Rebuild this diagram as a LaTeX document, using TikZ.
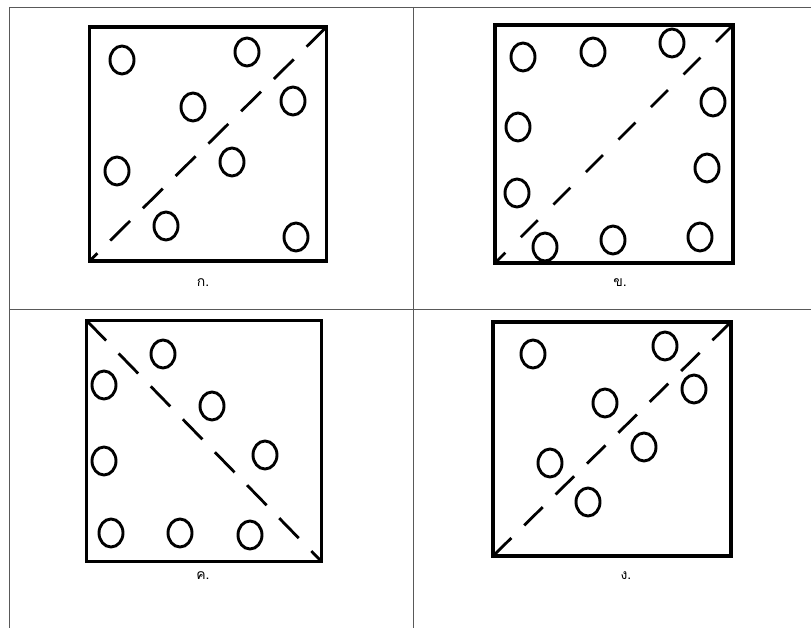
\documentclass[tikz,border=0pt]{standalone}
\usepackage{fontspec}
\newfontfamily\thaifont[Script=Thai]{Loma}
\usetikzlibrary{shapes.geometric}

\begin{document}
\begin{tikzpicture}[x=1pt, y=-1pt,
  rule/.style={draw=black!65, line width=0.8pt},
  box/.style={draw, line width=3.2pt, rectangle, inner sep=0pt, outer sep=0pt},
  blob/.style={draw, ellipse, line width=2.9pt, minimum width=24pt, minimum height=28pt, inner sep=0pt},
  cut/.style={line width=2.8pt, dash pattern=on 28pt off 18pt},
  tag/.style={font=\thaifont\fontsize{14}{16}\selectfont, inner sep=1pt}
]
\useasboundingbox (0,0) rectangle (811,628);

% table rules
\draw[rule] (9,7) -- (811,7);
\draw[rule] (9,309) -- (811,309);
\draw[rule] (9,7) -- (9,628);
\draw[rule] (413,7) -- (413,628);

% panel ก
\node[box, minimum width=237pt, minimum height=234pt] (sqA) at (208,144) {};
\draw[cut] (sqA.north east) -- (sqA.south west);
\foreach \p [count=\i] in {(122,60),(247,52),(193,107),(293,101),(117,171),(232,162),(166,226),(296,237)}
  \node[blob] (a\i) at \p {};
\node[tag] (tagA) at (203,283) {ก.};

% panel ข
\node[box, minimum width=238pt, minimum height=238pt] (sqB) at (614,144) {};
\draw[cut, dash pattern=on 24pt off 22pt] (sqB.north east) -- (sqB.south west);
\foreach \p [count=\i] in {(523,57),(593,52),(672,43),(713,102),(518,127),(707,168),(517,193),(545,247),(613,240),(700,237)}
  \node[blob] (b\i) at \p {};
\node[tag] (tagB) at (620,283) {ข.};

% panel ค
\node[box, minimum width=235pt, minimum height=241pt] (sqC) at (204,441) {};
\draw[cut] (sqC.north west) -- (sqC.south east);
\foreach \p [count=\i] in {(163,354),(104,385),(212,406),(265,455),(104,461),(111,533),(180,533),(250,535)}
  \node[blob] (c\i) at \p {};
\node[tag] (tagC) at (203,576) {ค.};

% panel ง
\node[box, minimum width=238pt, minimum height=234pt] (sqD) at (612,439) {};
\draw[cut, dash pattern=on 26pt off 18pt] (sqD.north east) -- (sqD.south west);
\foreach \p [count=\i] in {(533,354),(665,346),(694,389),(605,403),(644,447),(550,463),(588,502)}
  \node[blob] (d\i) at \p {};
\node[tag] (tagD) at (626,576) {ง.};
\end{tikzpicture}
\end{document}
